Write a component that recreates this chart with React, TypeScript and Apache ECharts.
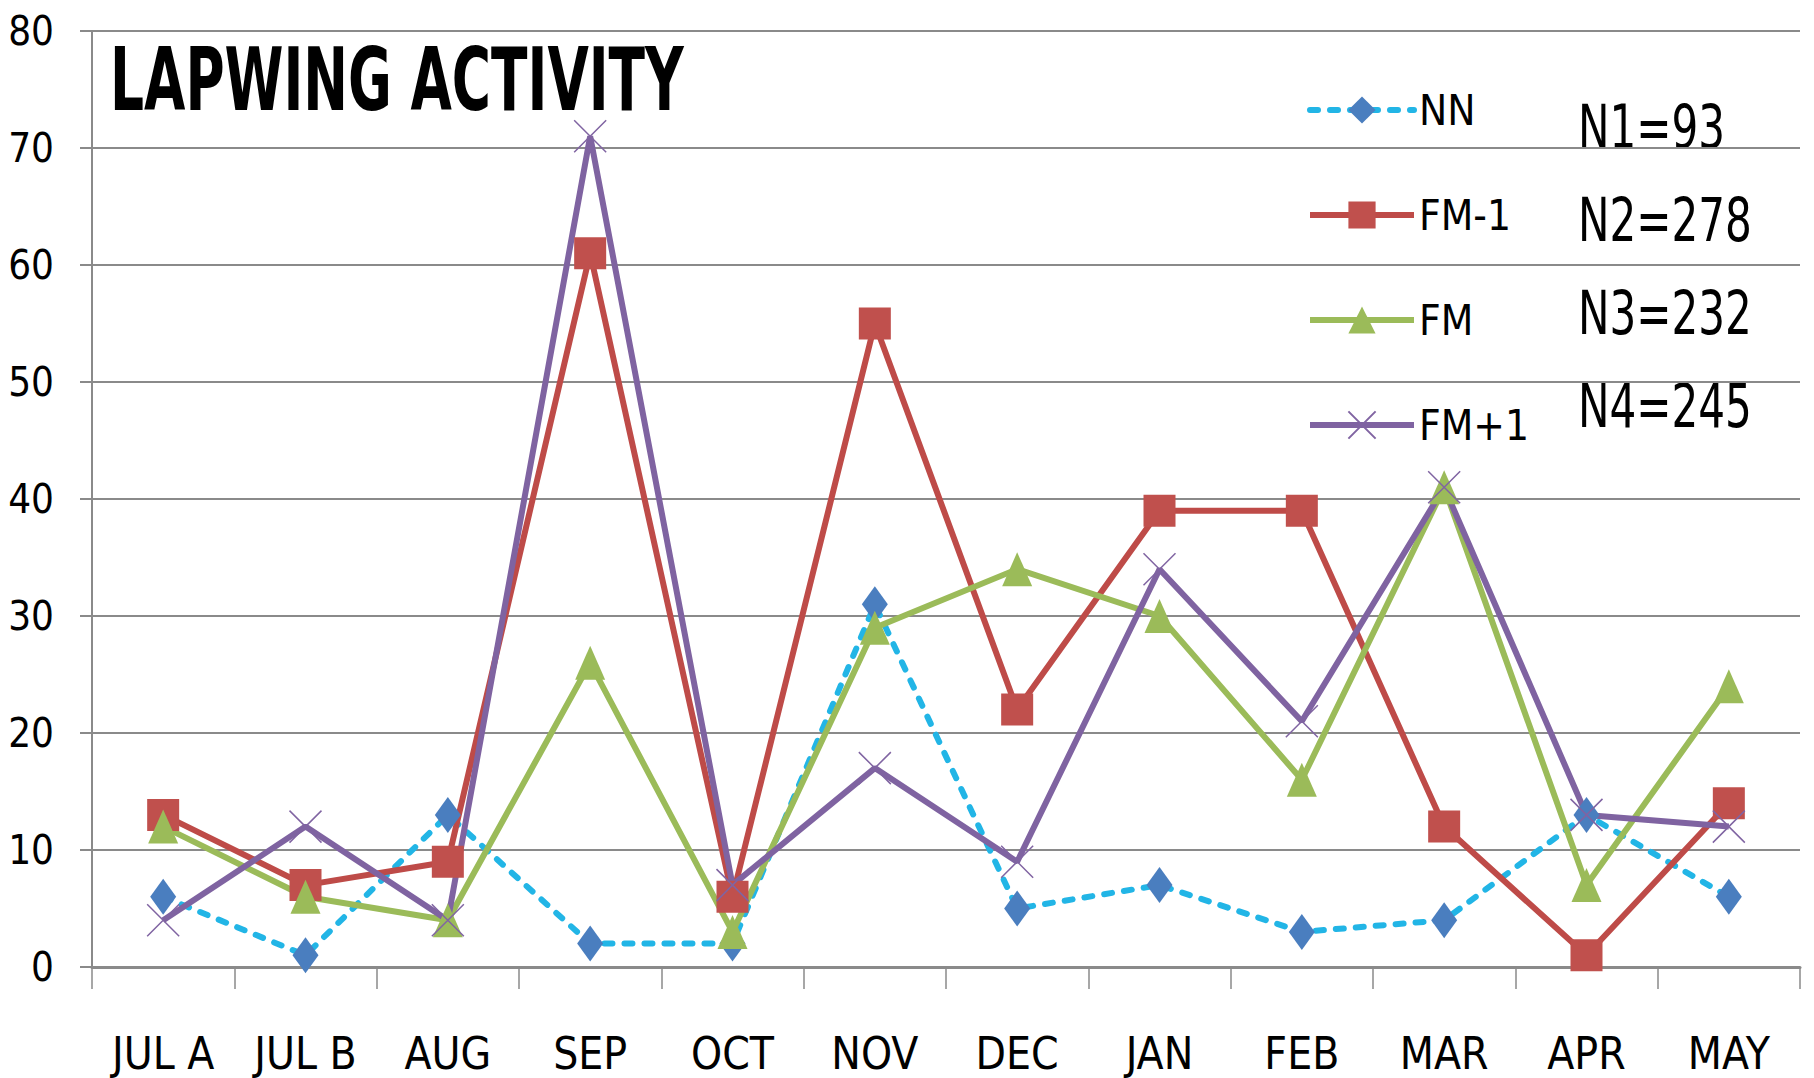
import React, { useEffect, useRef } from "react";
import * as echarts from "echarts";

const categories = ["JUL A", "JUL B", "AUG", "SEP", "OCT", "NOV", "DEC", "JAN", "FEB", "MAR", "APR", "MAY"];
const nnValues = [6, 1, 13, 2, 2, 31, 5, 7, 3, 4, 13, 6];
const fmMinus1Values = [13, 7, 9, 61, 6, 55, 22, 39, 39, 12, 1, 14];
const fmValues = [12, 6, 4, 26, 3, 29, 34, 30, 16, 41, 7, 24];
const fmPlus1Values = [4, 12, 4, 71, 7, 17, 9, 34, 21, 41, 13, 12];
const yTicks = [0, 10, 20, 30, 40, 50, 60, 70, 80];
const sampleSizes = ["N1=93", "N2=278", "N3=232", "N4=245"];
const titleText = "LAPWING ACTIVITY";

const FONT = '"DejaVu Sans Condensed", "Liberation Sans Narrow", "Open Sans", sans-serif';

export default function App() {
  const ref = useRef<HTMLDivElement>(null);
  useEffect(() => {
    document.body.style.margin = "0";
    const chart = echarts.init(ref.current!, null, { renderer: "svg" });
    const xPath = "path://M0,0L10,10M10,0L0,10";
    const option: any = {
      animation: false,
      backgroundColor: "#ffffff",
      textStyle: { fontFamily: FONT },
      grid: { left: 92, right: 14, top: 31, bottom: 111, containLabel: false },
      xAxis: {
        type: "category",
        data: categories,
        boundaryGap: true,
        axisLine: { show: true, lineStyle: { color: "#8a8a8a", width: 3 } },
        axisTick: { show: true, length: 22, lineStyle: { color: "#8a8a8a", width: 1.5 } },
        axisLabel: { fontFamily: FONT, fontSize: 44, color: "#000", margin: 64 },
      },
      yAxis: {
        type: "value",
        min: yTicks[0],
        max: yTicks[yTicks.length - 1],
        interval: 10,
        axisLine: { show: true, lineStyle: { color: "#8a8a8a", width: 2 } },
        axisTick: { show: true, length: 12, lineStyle: { color: "#8a8a8a", width: 2 } },
        axisLabel: { fontFamily: FONT, fontSize: 40, color: "#000", margin: 38 },
        splitLine: { show: true, lineStyle: { color: "#8a8a8a", width: 2 } },
      },
      legend: {
        orient: "vertical",
        left: 1302,
        top: 84,
        itemWidth: 104,
        itemHeight: 34,
        itemGap: 63,
        lineStyle: { width: 6 },
        textStyle: { fontFamily: FONT, fontSize: 42, color: "#000", padding: [0, 0, 0, 0] },
        data: ["NN", "FM-1", "FM", "FM+1"],
      },
      graphic: [
        {
          type: "text",
          x: 110,
          y: 36,
          scaleX: 0.675,
          style: { text: titleText, font: `bold 88px ${FONT}`, fill: "#000", verticalAlign: "top" },
        },
        ...sampleSizes.map((s, i) => ({
          type: "text",
          x: 1578,
          y: 97 + i * 93,
          scaleX: 0.78,
          style: { text: s, font: `60px ${FONT}`, fill: "#000", verticalAlign: "top" },
        })),
      ],
      series: [
        {
          name: "NN",
          type: "line",
          data: nnValues,
          symbol: "diamond",
          symbolSize: [26, 36],
          lineStyle: { color: "#22b5e6", width: 6, type: [8, 12], cap: "round" },
          itemStyle: { color: "#4a7ebf" },
        },
        {
          name: "FM-1",
          type: "line",
          data: fmMinus1Values,
          symbol: "rect",
          symbolSize: 32,
          lineStyle: { color: "#be4b48", width: 6 },
          itemStyle: { color: "#c0504d" },
        },
        {
          name: "FM",
          type: "line",
          data: fmValues,
          symbol: "triangle",
          symbolSize: [30, 34],
          lineStyle: { color: "#9bbb59", width: 6 },
          itemStyle: { color: "#9bbb59" },
        },
        {
          name: "FM+1",
          type: "line",
          data: fmPlus1Values,
          symbol: xPath,
          symbolSize: 32,
          lineStyle: { color: "#7f63a1", width: 6 },
          itemStyle: { color: "#8064a2", borderColor: "#8064a2", borderWidth: 1.5 },
        },
      ],
    };
    chart.setOption(option);
    return () => chart.dispose();
  }, []);
  return <div ref={ref} style={{ position: "fixed", left: 0, top: 0, width: 1814, height: 1078 }} />;
}
